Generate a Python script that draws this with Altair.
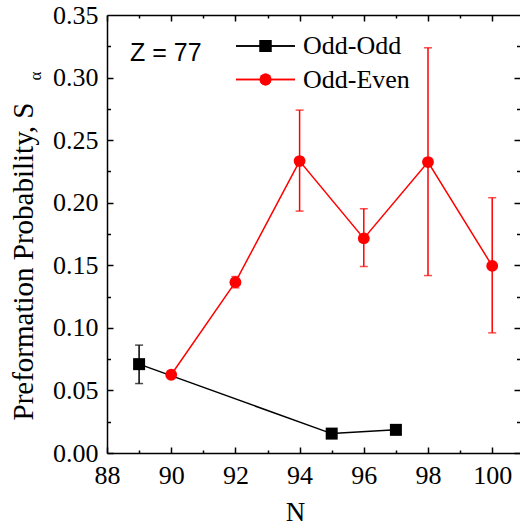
import altair as alt
import pandas as pd

# Odd-Odd nuclei (Z = 77)
oo_n = [89, 95, 97]
oo_s = [0.0710, 0.0155, 0.0185]
oo_lo = [0.0555, 0.0155, 0.0185]
oo_hi = [0.0862, 0.0155, 0.0185]

# Odd-Even nuclei (Z = 77)
oe_n = [90, 92, 94, 96, 98, 100]
oe_s = [0.0625, 0.1365, 0.2333, 0.1715, 0.2325, 0.1495]
oe_lo = [0.0625, 0.1320, 0.1933, 0.1490, 0.1418, 0.0960]
oe_hi = [0.0625, 0.1410, 0.2740, 0.1952, 0.3238, 0.2040]

x_labels = [88, 90, 92, 94, 96, 98, 100]
x_ticks = list(range(88, 101))
y_labels = [0.0, 0.05, 0.10, 0.15, 0.20, 0.25, 0.30, 0.35]
y_ticks = [i * 0.025 for i in range(15)]

W, H = 413, 438
SERIF = "Liberation Serif"
SANS = "Liberation Sans"
RED = "#ff0000"

oo = pd.DataFrame({"N": oo_n, "S": oo_s, "lo": oo_lo, "hi": oo_hi})
oe = pd.DataFrame({"N": oe_n, "S": oe_s, "lo": oe_lo, "hi": oe_hi})

xs = alt.Scale(domain=[88, 88 + W / 32.1], nice=False, zero=False)
ys = alt.Scale(domain=[0, 0.35], nice=False)

x_major = {"condition": {"test": "datum.value % 2 == 0", "value": 6}, "value": 3}
y_major = {"condition": {"test": "abs(datum.value * 20 - round(datum.value * 20)) < 0.001",
                         "value": 6}, "value": 3.5}

# axis carrying labels, titles and the left/bottom frame lines
x_main = alt.Axis(values=x_labels, ticks=False, domain=True, domainColor="black",
                  domainWidth=1.5, labelFont=SERIF, labelFontSize=26, labelColor="black",
                  labelBaseline="alphabetic", labelPadding=30, labelFlush=False,
                  grid=False, title="N", titleFont=SERIF, titleFontSize=27,
                  titleFontWeight="normal", titleColor="black", titleX=188, titleY=67,
                  titleBaseline="alphabetic", titleAlign="center")
y_main = alt.Axis(values=y_labels, ticks=False, domain=True, domainColor="black",
                  domainWidth=1.5, labelFont=SERIF, labelFontSize=26, labelColor="black",
                  labelPadding=9, labelFlush=False, format=".2f", grid=False,
                  title="Preformation Probability, S", titleFont=SERIF, titleFontSize=29,
                  titleFontWeight="normal", titleColor="black", titleAngle=270,
                  titleX=-75, titleY=405, titleAlign="left", titleBaseline="alphabetic")

# inward ticks on bottom and left edges
x_in_bottom = alt.Axis(orient="top", offset=-H, values=x_ticks, labels=False, domain=False,
                       grid=False, title="", tickColor="black",
                       tickWidth=1.5, tickSize=x_major)
y_in_left = alt.Axis(orient="right", offset=-W, values=y_ticks, labels=False, domain=False,
                     grid=False, title="", tickColor="black", tickWidth=1.5,
                     tickSize=y_major)

# inward ticks on top (with top frame line) and right edges
x_in_top = alt.Axis(orient="bottom", offset=-H, values=x_ticks, labels=False, domain=True,
                    domainColor="black", domainWidth=1.5, grid=False, title="",
                    tickColor="black", tickWidth=1.5, tickSize=x_major)
y_in_right = alt.Axis(orient="left", offset=-W, values=y_ticks, labels=False, domain=False,
                      grid=False, title="", tickColor="black", tickWidth=1.5,
                      tickSize=y_major)


def series(df, color, shape, size, axes=None):
    xa, ya = axes if axes else (None, None)
    base = alt.Chart(df)
    line = base.mark_line(color=color, strokeWidth=1.5).encode(
        x=alt.X("N:Q", scale=xs, axis=xa),
        y=alt.Y("S:Q", scale=ys, axis=ya),
    )
    bar = base.mark_rule(color=color, strokeWidth=1.5).encode(
        x=alt.X("N:Q", scale=xs, axis=None),
        y=alt.Y("lo:Q", scale=ys, axis=None),
        y2="hi:Q",
    )
    cap_lo = base.mark_tick(color=color, orient="horizontal", size=8, thickness=1.5).encode(
        x=alt.X("N:Q", scale=xs, axis=None),
        y=alt.Y("lo:Q", scale=ys, axis=None),
    )
    cap_hi = base.mark_tick(color=color, orient="horizontal", size=8, thickness=1.5).encode(
        x=alt.X("N:Q", scale=xs, axis=None),
        y=alt.Y("hi:Q", scale=ys, axis=None),
    )
    pts = base.mark_point(shape=shape, filled=True, size=size, color=color, opacity=1).encode(
        x=alt.X("N:Q", scale=xs, axis=None),
        y=alt.Y("S:Q", scale=ys, axis=None),
    )
    return [line, bar, cap_lo, cap_hi, pts]


oo_layers = series(oo, "black", "square", 144, (x_main, y_main))
oe_layers = series(oe, RED, "circle", 140, (x_in_bottom, y_in_left))

# third axis carrier: top and right tick sets
frame = alt.Chart(oe).mark_point(opacity=0).encode(
    x=alt.X("N:Q", scale=xs, axis=x_in_top),
    y=alt.Y("S:Q", scale=ys, axis=y_in_right),
)

# subscript alpha of the y title
alpha = alt.Chart(pd.DataFrame({"t": ["α"]})).mark_text(
    font=SERIF, fontSize=17, angle=270, align="center", baseline="middle", color="black"
).encode(text="t:N", x=alt.value(-71), y=alt.value(61))

label_z = alt.Chart(pd.DataFrame({"t": ["Z = 77"]})).mark_text(
    font=SANS, fontSize=25, align="left", baseline="middle", color="black"
).encode(text="t:N", x=alt.value(23), y=alt.value(38))

# legend
leg = pd.DataFrame({"name": ["Odd-Odd", "Odd-Even"]})
leg_oo_line = alt.Chart(leg).mark_rule(color="black", strokeWidth=1.5).encode(
    x=alt.value(129), x2=alt.value(188), y=alt.value(31))
leg_oo_pt = alt.Chart(leg).mark_point(shape="square", filled=True, size=144, color="black",
                                      opacity=1).encode(x=alt.value(158.5), y=alt.value(31))
leg_oe_line = alt.Chart(leg).mark_rule(color=RED, strokeWidth=1.5).encode(
    x=alt.value(129), x2=alt.value(188), y=alt.value(64.5))
leg_oe_pt = alt.Chart(leg).mark_point(shape="circle", filled=True, size=140, color=RED,
                                      opacity=1).encode(x=alt.value(158.5), y=alt.value(64.5))
leg_text = alt.Chart(leg).transform_calculate(
    yy="datum.name == 'Odd-Odd' ? 31 : 64.5"
).mark_text(font=SERIF, fontSize=26, align="left", baseline="middle", color="black").encode(
    text="name:N", x=alt.value(196), y=alt.Y("yy:Q", scale=None, axis=None))

chart = alt.layer(
    *oo_layers, *oe_layers, frame, alpha, label_z,
    leg_oo_line, leg_oo_pt, leg_oe_line, leg_oe_pt, leg_text,
).resolve_axis(x="independent", y="independent").properties(
    width=W, height=H,
    autosize=alt.AutoSizeParams(type="none"),
    padding={"left": 107, "top": 15, "right": 0, "bottom": 74},
    background="white",
).configure_view(strokeOpacity=0)

chart.save("out.html", embed_options={"renderer": "svg", "actions": False})
